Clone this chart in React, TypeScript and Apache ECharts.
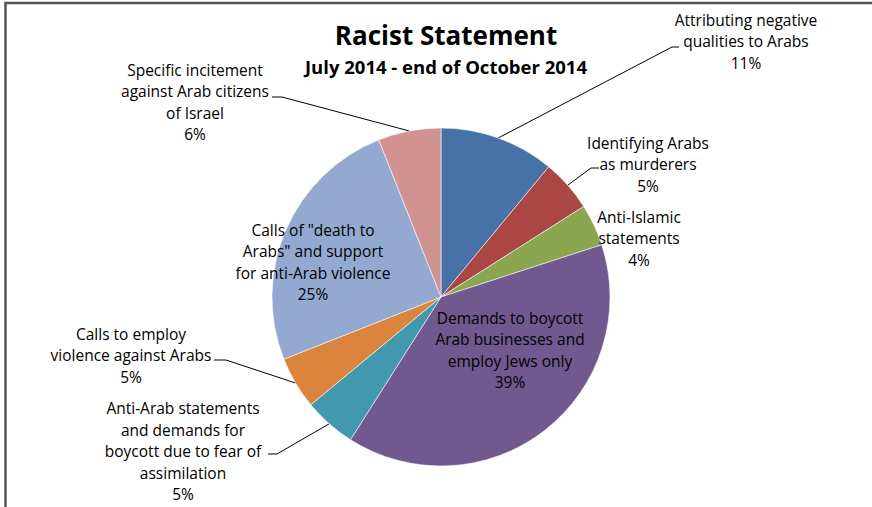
import React, { useEffect, useRef } from "react";
import * as echarts from "echarts";

const categories = [
  "Attributing negative\nqualities to Arabs",
  "Identifying Arabs\nas murderers",
  "Anti-Islamic\nstatements",
  "Demands to boycott\nArab businesses and\nemploy Jews only",
  "Anti-Arab statements\nand demands for\nboycott due to fear of\nassimilation",
  "Calls to employ\nviolence against Arabs",
  "Calls of \"death to\nArabs\" and support\nfor anti-Arab violence",
  "Specific incitement\nagainst Arab citizens\nof Israel",
];
const values = [11, 5, 4, 39, 5, 5, 25, 6];
const colors = ["#4672A8", "#AA4643", "#8AA64F", "#71588F", "#4198AF", "#DB843D", "#93A9D0", "#D09392"];

const titleText = "Racist Statement";
const subtitleText = "July 2014 - end of October 2014";

// label block centers (layout only)
const labelCenters: [number, number][] = [
  [746, 41],
  [648, 164],
  [639, 238],
  [510, 350],
  [183, 451],
  [131, 355],
  [313, 262],
  [195, 102],
];
// leader line elbow: [elbowX, elbowY, endX] or null
const leaderElbows: ([number, number, number] | null)[] = [
  [672, 47, 679],
  [591, 168, 599],
  null,
  null,
  [277, 454, 268],
  [226, 360, 214],
  null,
  [282, 97, 272],
];

export default function App() {
  const ref = useRef<HTMLDivElement>(null);
  useEffect(() => {
    document.body.style.margin = "0";
    const chart = echarts.init(ref.current!, null, { renderer: "svg" });
    const font = "'Open Sans', Lato, sans-serif";
    chart.setOption({
      animation: false,
      backgroundColor: "#ffffff",
      title: {
        text: titleText,
        subtext: subtitleText,
        left: 441,
        top: 17,
        textAlign: "center",
        itemGap: 9,
        textStyle: { fontFamily: font, fontWeight: "bold", fontSize: 26, color: "#000" },
        subtextStyle: { fontFamily: font, fontWeight: "bold", fontSize: 18.5, color: "#000" },
      },
      graphic: [
        {
          type: "polyline",
          shape: { points: [[5.5, 507], [5.5, 3], [872, 3]] },
          style: { stroke: "#555", lineWidth: 2.5, fill: null },
          silent: true,
        },
      ],
      series: [
        {
          type: "pie",
          silent: true,
          center: [441, 297],
          radius: 169,
          startAngle: 90,
          clockwise: true,
          percentPrecision: 0,
          avoidLabelOverlap: false,
          itemStyle: { borderColor: "rgba(255,255,255,0.7)", borderWidth: 0.8 },
          label: {
            show: true,
            position: "outside",
            formatter: "{b}\n{d}%",
            fontFamily: font,
            fontSize: 15.5,
            lineHeight: 21.5,
            color: "#000",
            align: "center",
          },
          labelLine: { show: true, length: 10, length2: 10, lineStyle: { color: "#000", width: 1 } },
          labelLayout: (params: any) => {
            const i = params.dataIndex;
            const c = labelCenters[i];
            const res: any = { x: c[0], y: c[1], align: "center", verticalAlign: "middle", hideOverlap: false };
            const e = leaderElbows[i];
            const pts = params.labelLinePoints;
            if (e && pts) {
              res.labelLinePoints = [pts[0], [e[0], e[1]], [e[2], e[1]]];
            }
            return res;
          },
          data: categories.map((name, i) => ({
            name,
            value: values[i],
            itemStyle: { color: colors[i] },
            labelLine: { show: leaderElbows[i] !== null },
          })),
        },
      ],
    });
    return () => chart.dispose();
  }, []);
  return <div ref={ref} style={{ width: 872, height: 507 }} />;
}
